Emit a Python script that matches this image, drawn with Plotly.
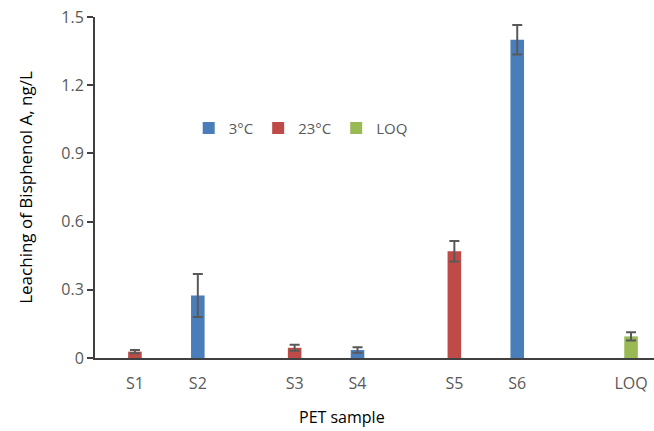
import plotly.graph_objects as go

# Leaching of bisphenol A from PET samples at two storage temperatures
categories = ["S1", "S2", "S3", "S4", "S5", "S6", "LOQ"]
series_names = ["3°C", "23°C", "LOQ"]
values_3c = [None, 0.275, None, 0.035, None, 1.40, None]
err_3c = [None, 0.095, None, 0.012, None, 0.065, None]
values_23c = [0.028, None, 0.045, None, 0.47, None, None]
err_23c = [0.007, None, 0.013, None, 0.045, None, None]
values_loq = [None, None, None, None, None, None, 0.095]
err_loq = [None, None, None, None, None, None, 0.018]
y_ticks = [0, 0.3, 0.6, 0.9, 1.2, 1.5]
y_tick_labels = ["0", "0.3", "0.6", "0.9", "1.2", "1.5"]

colors = ["#4A7EBB", "#BE4B48", "#98B954"]
# clustered layout: each series sits at a fixed offset inside its category slot
offsets = [-0.2125, 0.0, 0.2125]
series_vals = [values_3c, values_23c, values_loq]
series_errs = [err_3c, err_23c, err_loq]

fig = go.Figure()
tick_pos = [None] * len(categories)
for name, vals, errs, col, off in zip(series_names, series_vals, series_errs, colors, offsets):
    xs, ys, es = [], [], []
    for i, (v, e) in enumerate(zip(vals, errs)):
        if v is None:
            continue
        xs.append(i + off)
        ys.append(v)
        es.append(e)
        tick_pos[i] = i + off
    fig.add_trace(go.Bar(
        x=xs, y=ys, name=name, width=0.17,
        marker=dict(color=col, line=dict(width=0)),
        error_y=dict(type="data", array=es, visible=True,
                     color="#595959", thickness=2, width=5),
    ))

fig.add_annotation(
    text="PET sample", xref="paper", yref="paper", x=0.441, y=-0.173,
    xanchor="center", yanchor="middle", showarrow=False,
    font=dict(size=16, color="black"),
)

fig.update_layout(
    width=654, height=431,
    margin=dict(l=95, r=0, t=17, b=73),
    paper_bgcolor="white", plot_bgcolor="white",
    font=dict(family="Open Sans", color="#595959", size=14),
    showlegend=True,
    legend=dict(orientation="h", x=0.368, y=0.674, xanchor="center", yanchor="middle",
                font=dict(size=15, color="#595959"), itemwidth=30,
                traceorder="normal", bgcolor="rgba(0,0,0,0)"),
    xaxis=dict(
        range=[-0.5, len(categories) - 0.5],
        tickmode="array", tickvals=tick_pos, ticktext=categories,
        showline=True, linecolor="#404040", linewidth=2,
        ticks="", showgrid=False, zeroline=False, ticklabelstandoff=10,
        tickfont=dict(size=16, color="#595959"),
    ),
    yaxis=dict(
        range=[0, 1.5],
        tickmode="array", tickvals=y_ticks, ticktext=y_tick_labels,
        showline=True, linecolor="#404040", linewidth=2,
        ticks="outside", ticklen=6, tickwidth=1.5, tickcolor="#404040",
        showgrid=False, zeroline=False,
        tickfont=dict(size=16, color="#595959"),
        title=dict(text="Leaching of Bisphenol A, ng/L", font=dict(size=17, color="black"), standoff=24),
    ),
)

fig.write_html("out.html")
